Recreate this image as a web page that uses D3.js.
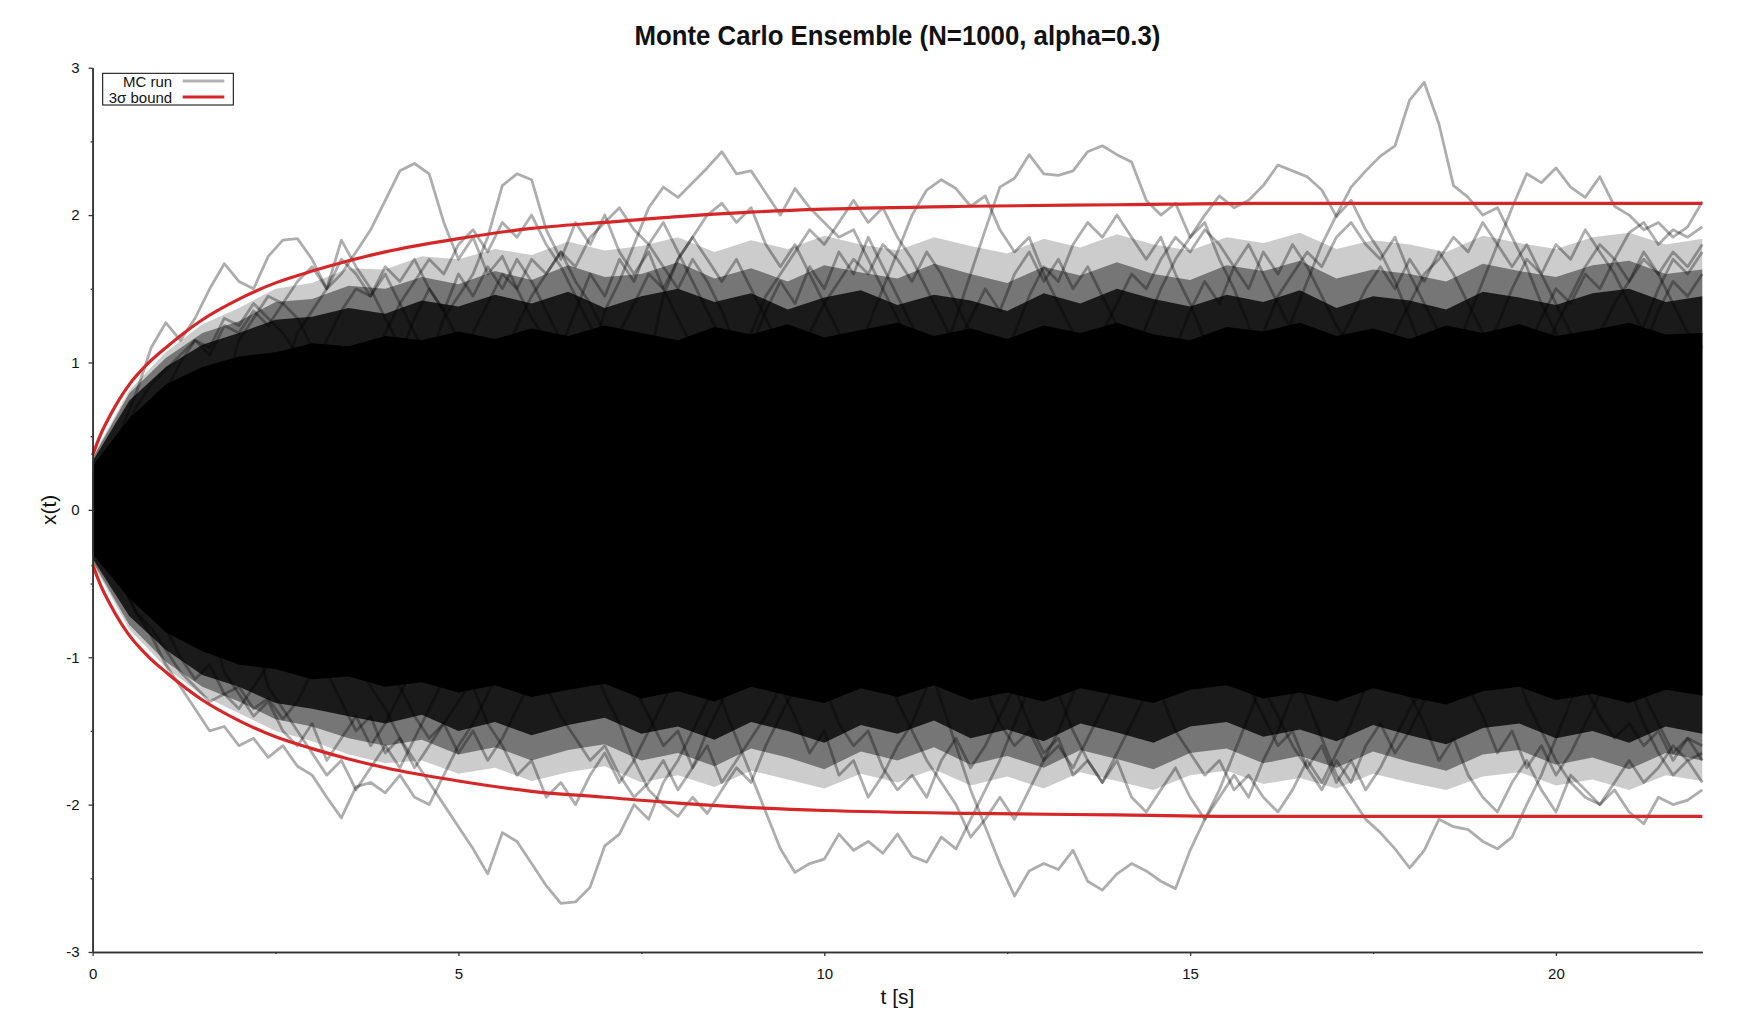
<!DOCTYPE html>
<html>
<head>
<meta charset="utf-8">
<script src="https://cdn.jsdelivr.net/npm/d3@7"></script>
<style>
  body { margin: 0; background: #fff; }
  svg text { font-family: "Liberation Sans", Arial, Helvetica, sans-serif; fill: #111; }
</style>
</head>
<body>
<svg></svg>
<script>
// axis ticks
const xTicks = [0, 5, 10, 15, 20];
const xMinorTicks = [2.5, 7.5, 12.5, 17.5];
const yTicks = [-3, -2, -1, 0, 1, 2, 3];
const yMinorTicks = [-2.5, -1.5, -0.5, 0.5, 1.5, 2.5];

// 3 sigma bound
const boundT = [0, 0.1, 0.25, 0.5, 0.75, 1, 1.5, 2, 2.5, 3, 3.5, 4, 5, 6, 7, 8, 9, 10, 12, 14, 16, 18, 20, 22];
const boundUpper = [0.37, 0.5, 0.65, 0.85, 0.99, 1.1, 1.29, 1.43, 1.54, 1.62, 1.69, 1.75, 1.84, 1.91, 1.95, 1.99, 2.02, 2.04, 2.06, 2.07, 2.08, 2.08, 2.08, 2.08];
const boundLower = [-0.37, -0.5, -0.65, -0.85, -0.99, -1.1, -1.29, -1.43, -1.54, -1.62, -1.69, -1.75, -1.84, -1.91, -1.95, -1.99, -2.02, -2.04, -2.06, -2.07, -2.08, -2.08, -2.08, -2.08];

// edges of the ensemble mass, sampled every 0.5 s (t = 0 .. 22)
const EDGE_DT = 0.5;
const coreTop = [0.3, 0.62, 0.85, 0.97, 1.04, 1.07, 1.13, 1.11, 1.18, 1.15, 1.21, 1.16, 1.23, 1.18, 1.25, 1.2, 1.15, 1.24, 1.19, 1.26, 1.17, 1.22, 1.27, 1.18, 1.23, 1.16, 1.25, 1.2, 1.27, 1.19, 1.15, 1.24, 1.21, 1.27, 1.18, 1.23, 1.16, 1.25, 1.2, 1.26, 1.18, 1.22, 1.27, 1.19, 1.2];
const coreBottom = [-0.3, -0.6, -0.83, -0.96, -1.05, -1.08, -1.15, -1.13, -1.2, -1.17, -1.24, -1.19, -1.27, -1.22, -1.18, -1.28, -1.23, -1.3, -1.2, -1.26, -1.31, -1.21, -1.27, -1.19, -1.29, -1.24, -1.3, -1.21, -1.26, -1.31, -1.22, -1.19, -1.28, -1.24, -1.3, -1.21, -1.27, -1.32, -1.23, -1.2, -1.29, -1.25, -1.31, -1.22, -1.26];
const denseTop = [0.33, 0.74, 0.97, 1.12, 1.2, 1.29, 1.31, 1.37, 1.33, 1.42, 1.38, 1.46, 1.4, 1.48, 1.37, 1.45, 1.5, 1.41, 1.47, 1.36, 1.44, 1.49, 1.39, 1.46, 1.42, 1.35, 1.47, 1.4, 1.5, 1.43, 1.38, 1.46, 1.41, 1.49, 1.37, 1.45, 1.42, 1.36, 1.48, 1.44, 1.39, 1.47, 1.5, 1.41, 1.45];
const denseBottom = [-0.33, -0.72, -0.95, -1.12, -1.2, -1.31, -1.35, -1.4, -1.45, -1.39, -1.5, -1.44, -1.53, -1.46, -1.41, -1.52, -1.47, -1.56, -1.44, -1.5, -1.58, -1.46, -1.52, -1.43, -1.55, -1.49, -1.57, -1.45, -1.51, -1.58, -1.47, -1.44, -1.54, -1.49, -1.57, -1.46, -1.53, -1.59, -1.48, -1.45, -1.55, -1.5, -1.58, -1.47, -1.52];
const midTop = [0.35, 0.79, 1.03, 1.2, 1.28, 1.41, 1.43, 1.52, 1.5, 1.58, 1.53, 1.62, 1.56, 1.66, 1.58, 1.6, 1.68, 1.57, 1.64, 1.55, 1.66, 1.61, 1.57, 1.67, 1.6, 1.54, 1.65, 1.59, 1.68, 1.6, 1.56, 1.66, 1.62, 1.69, 1.57, 1.63, 1.6, 1.55, 1.67, 1.62, 1.58, 1.66, 1.69, 1.6, 1.63];
const midBottom = [-0.35, -0.78, -1.03, -1.2, -1.3, -1.42, -1.47, -1.55, -1.6, -1.56, -1.66, -1.61, -1.7, -1.63, -1.59, -1.7, -1.65, -1.74, -1.62, -1.68, -1.76, -1.64, -1.7, -1.61, -1.73, -1.67, -1.75, -1.63, -1.69, -1.76, -1.65, -1.62, -1.72, -1.67, -1.75, -1.64, -1.71, -1.77, -1.66, -1.63, -1.73, -1.68, -1.76, -1.65, -1.7];
const hazeTop = [0.36, 0.81, 1.07, 1.26, 1.37, 1.5, 1.54, 1.64, 1.63, 1.72, 1.7, 1.77, 1.73, 1.82, 1.76, 1.79, 1.85, 1.75, 1.83, 1.77, 1.86, 1.8, 1.76, 1.85, 1.79, 1.74, 1.84, 1.78, 1.87, 1.8, 1.76, 1.85, 1.81, 1.88, 1.77, 1.83, 1.8, 1.75, 1.86, 1.81, 1.77, 1.85, 1.88, 1.8, 1.84];
const hazeBottom = [-0.36, -0.81, -1.07, -1.26, -1.38, -1.5, -1.57, -1.66, -1.72, -1.7, -1.79, -1.75, -1.84, -1.78, -1.74, -1.85, -1.8, -1.88, -1.77, -1.83, -1.89, -1.79, -1.85, -1.76, -1.87, -1.81, -1.89, -1.78, -1.84, -1.9, -1.8, -1.77, -1.86, -1.82, -1.89, -1.79, -1.85, -1.9, -1.81, -1.78, -1.87, -1.83, -1.9, -1.8, -1.84];

// visible stretches of single runs outside the dense core, sampled every 0.2 s
const RUN_DT = 0.2;
const runsUpper = [
    { t0: 0.2, x: [0.3, 0.55, 0.8, 1.1, 1.27, 1.15, 1.3, 1.5, 1.67, 1.55, 1.5, 1.72, 1.83, 1.84, 1.7, 1.5, 1.83, 1.65, 1.5, 1.3, 1.1, 0.98] },
    { t0: 2.6, x: [0.9, 1.2, 1.35, 1.5, 1.6, 1.75, 1.9, 2.1, 2.3, 2.35, 2.28, 1.95, 1.7, 1.85, 1.6, 1.72, 1.5, 1.3, 1.15, 0.95] },
    { t0: 4.6, x: [1.0, 1.3, 1.45, 1.6, 1.85, 2.2, 2.28, 2.24, 1.9, 1.7, 1.95, 1.8, 2.0, 1.75, 1.6, 1.75, 1.5, 1.3, 1.1, 0.95] },
    { t0: 6.8, x: [1.0, 1.35, 1.55, 1.8, 2.05, 2.19, 2.12, 2.22, 2.32, 2.43, 2.28, 2.3, 2.15, 2.0, 2.18, 2.05, 1.95, 1.85, 1.9, 1.7, 1.5, 1.3, 1.1, 0.95] },
    { t0: 7.6, x: [1.0, 1.45, 1.7, 1.85, 2.0, 2.08, 1.95, 2.05, 1.8, 1.65, 1.8, 1.6, 1.4, 1.2, 1.0] },
    { t0: 0.2, x: [0.3, 0.5, 0.7, 0.85, 0.95, 1.05, 1.15, 1.1, 1.3, 1.25, 1.4, 1.3, 1.2, 1.05, 0.9] },
    { t0: 1.8, x: [0.8, 1.15, 1.3, 1.45, 1.4, 1.55, 1.65, 1.5, 1.7, 1.6, 1.45, 1.6, 1.4, 1.2, 1.0] },
    { t0: 3.8, x: [1.0, 1.2, 1.4, 1.55, 1.7, 1.6, 1.8, 1.9, 1.75, 1.95, 1.85, 2.0, 1.8, 1.65, 1.45, 1.25, 1.05] },
    { t0: 5.6, x: [1.0, 1.25, 1.45, 1.6, 1.75, 1.65, 1.85, 1.95, 2.05, 1.9, 1.8, 1.95, 1.75, 1.55, 1.35, 1.15, 0.95] },
    { t0: 8.8, x: [1.0, 1.2, 1.45, 1.6, 1.75, 1.9, 1.8, 1.95, 2.1, 1.95, 2.05, 1.85, 1.7, 1.5, 1.3, 1.1, 0.95] },
    { t0: 10.4, x: [1.0, 1.25, 1.5, 1.75, 2.0, 2.17, 2.24, 2.18, 2.06, 2.13, 1.9, 1.75, 1.85, 1.6, 1.4, 1.2, 1.0] },
    { t0: 11.6, x: [1.0, 1.3, 1.6, 1.9, 2.19, 2.25, 2.41, 2.28, 2.27, 2.3, 2.43, 2.47, 2.41, 2.36, 2.1, 2.0, 2.08, 1.85, 1.95, 1.7, 1.5, 1.25, 1.0] },
    { t0: 14.2, x: [1.0, 1.25, 1.5, 1.7, 1.85, 2.0, 2.13, 2.05, 2.1, 2.2, 2.34, 2.3, 2.26, 2.17, 1.99, 2.1, 1.9, 1.75, 1.55, 1.3, 1.05] },
    { t0: 16.2, x: [1.0, 1.3, 1.55, 1.8, 2.0, 2.19, 2.3, 2.4, 2.47, 2.78, 2.9, 2.62, 2.2, 2.12, 2.0, 2.05, 1.85, 1.65, 1.4, 1.2, 1.0] },
    { t0: 18.6, x: [1.0, 1.3, 1.55, 1.8, 2.05, 2.28, 2.22, 2.32, 2.19, 2.12, 2.26, 2.06, 2.0, 1.9, 1.95, 1.85, 1.92, 2.09] },
    { t0: 19.8, x: [1.0, 1.25, 1.45, 1.65, 1.8, 1.7, 1.88, 1.95, 1.8, 1.9, 1.85, 1.92] },
    { t0: 13.6, x: [1.0, 1.2, 1.4, 1.6, 1.5, 1.7, 1.85, 1.75, 1.9, 1.8, 1.65, 1.8, 1.6, 1.4, 1.2, 1.0] },
    { t0: 15.8, x: [1.0, 1.2, 1.45, 1.6, 1.75, 1.65, 1.85, 1.95, 1.8, 1.7, 1.85, 1.6, 1.4, 1.2, 1.0] },
    { t0: 17.6, x: [1.0, 1.2, 1.4, 1.6, 1.7, 1.85, 1.75, 1.95, 1.8, 1.65, 1.8, 1.6, 1.4, 1.2, 1.0] },
    { t0: 20.4, x: [1.0, 1.2, 1.4, 1.55, 1.7, 1.6, 1.75, 1.65, 1.8] },
    { t0: 9.6, x: [1.0, 1.2, 1.4, 1.55, 1.7, 1.6, 1.8, 1.7, 1.55, 1.75, 1.6, 1.4, 1.2, 1.0] },
    { t0: 7.0, x: [1.0, 1.2, 1.4, 1.6, 1.5, 1.7, 1.85, 1.7, 1.55, 1.7, 1.5, 1.3, 1.1, 0.95] },
    { t0: 12.4, x: [1.0, 1.2, 1.45, 1.65, 1.55, 1.8, 1.95, 1.85, 2.0, 1.85, 1.7, 1.85, 1.6, 1.4, 1.15, 1.0] },
    { t0: 3.0, x: [0.95, 1.15, 1.35, 1.5, 1.45, 1.65, 1.55, 1.7, 1.5, 1.35, 1.15, 0.95] },
    { t0: 5.0, x: [1.0, 1.2, 1.4, 1.6, 1.5, 1.7, 1.6, 1.75, 1.55, 1.4, 1.2, 1.0] },
    { t0: 19.0, x: [1.0, 1.25, 1.5, 1.7, 1.6, 1.8, 1.7, 1.9, 1.75, 1.6, 1.4, 1.2, 1.0] },
    { t0: 21.0, x: [1.0, 1.25, 1.5, 1.7, 1.6, 1.75] },
    { t0: 1.0, x: [0.8, 1.0, 1.15, 1.05, 1.25, 1.2, 1.35, 1.25, 1.4, 1.3, 1.1, 1.0] },
    { t0: 4.2, x: [1.05, 1.3, 1.5, 1.35, 1.6, 1.45, 1.65, 1.5, 1.7, 1.55, 1.35, 1.15] },
    { t0: 6.4, x: [1.1, 1.35, 1.6, 1.45, 1.7, 1.55, 1.8, 1.65, 1.5, 1.7, 1.55, 1.35, 1.1] },
    { t0: 9.0, x: [1.1, 1.35, 1.55, 1.4, 1.65, 1.5, 1.75, 1.6, 1.85, 1.65, 1.45, 1.25, 1.1] },
    { t0: 11.8, x: [1.1, 1.3, 1.5, 1.35, 1.6, 1.75, 1.55, 1.7, 1.5, 1.65, 1.45, 1.25, 1.1] },
    { t0: 14.8, x: [1.1, 1.35, 1.55, 1.4, 1.65, 1.5, 1.75, 1.6, 1.8, 1.65, 1.45, 1.25, 1.1] },
    { t0: 17.0, x: [1.1, 1.3, 1.5, 1.65, 1.5, 1.7, 1.55, 1.75, 1.6, 1.4, 1.2, 1.1] },
    { t0: 19.6, x: [1.1, 1.3, 1.5, 1.4, 1.6, 1.5, 1.7, 1.55, 1.75, 1.6, 1.4, 1.2, 1.1] },
    { t0: 21.2, x: [1.1, 1.35, 1.55, 1.45, 1.6] }
];
const runsLower = [
    { t0: 0.2, x: [-0.3, -0.5, -0.7, -0.85, -1.05, -1.2, -1.35, -1.5, -1.47, -1.6, -1.55, -1.68, -1.6, -1.74, -1.8, -1.95, -2.09, -1.88, -1.85, -1.92, -1.8, -1.95, -2.0, -1.8, -1.6, -1.45, -1.25, -1.05] },
    { t0: 3.6, x: [-1.0, -1.2, -1.35, -1.55, -1.7, -1.85, -2.0, -2.15, -2.3, -2.47, -2.19, -2.25, -2.4, -2.55, -2.67, -2.66, -2.56, -2.28, -2.2, -2.0, -2.1, -1.85, -1.7, -1.5, -1.3, -1.1, -0.95] },
    { t0: 6.8, x: [-1.0, -1.25, -1.45, -1.7, -1.9, -2.0, -2.08, -1.95, -2.06, -1.9, -1.75, -1.85, -1.6, -1.4, -1.2, -1.0] },
    { t0: 8.4, x: [-1.0, -1.3, -1.55, -1.8, -2.05, -2.3, -2.46, -2.4, -2.37, -2.2, -2.31, -2.25, -2.33, -2.2, -2.35, -2.39, -2.22, -2.3, -2.1, -1.9, -1.7, -1.45, -1.2, -1.0] },
    { t0: 11.4, x: [-1.0, -1.3, -1.6, -1.9, -2.15, -2.4, -2.62, -2.45, -2.4, -2.44, -2.31, -2.52, -2.58, -2.47, -2.4, -2.45, -2.52, -2.57, -2.31, -2.1, -1.9, -1.65, -1.4, -1.15, -0.95] },
    { t0: 16.4, x: [-1.0, -1.3, -1.55, -1.8, -1.95, -2.1, -2.19, -2.3, -2.43, -2.31, -2.1, -2.15, -2.17, -2.25, -2.3, -2.22, -2.0, -1.8, -1.55, -1.3, -1.05] },
    { t0: 19.4, x: [-1.0, -1.3, -1.5, -1.7, -1.85, -1.95, -2.0, -1.9, -2.05, -2.13, -1.95, -2.0, -1.97, -1.9] },
    { t0: 1.6, x: [-0.75, -1.1, -1.25, -1.4, -1.3, -1.5, -1.6, -1.45, -1.7, -1.55, -1.4, -1.6, -1.45, -1.25, -1.05, -0.95] },
    { t0: 5.0, x: [-1.0, -1.2, -1.45, -1.6, -1.8, -1.7, -1.95, -1.85, -2.0, -1.8, -1.65, -1.85, -1.7, -1.5, -1.3, -1.1, -0.95] },
    { t0: 9.8, x: [-1.0, -1.2, -1.45, -1.6, -1.5, -1.75, -1.9, -1.8, -1.95, -1.7, -1.55, -1.75, -1.6, -1.4, -1.2, -1.0] },
    { t0: 13.0, x: [-1.0, -1.25, -1.5, -1.7, -1.85, -1.7, -1.95, -2.05, -1.9, -1.75, -1.95, -2.1, -1.95, -1.8, -1.95, -1.7, -1.5, -1.25, -1.05] },
    { t0: 15.6, x: [-1.0, -1.2, -1.4, -1.6, -1.5, -1.75, -1.9, -1.7, -1.85, -1.6, -1.45, -1.65, -1.5, -1.3, -1.1, -0.95] },
    { t0: 17.8, x: [-1.0, -1.25, -1.45, -1.7, -1.55, -1.8, -1.95, -2.05, -1.85, -1.7, -1.9, -2.05, -1.8, -1.9, -2.0, -1.85, -1.7, -1.85, -1.75, -1.6, -1.7, -1.65] },
    { t0: 20.2, x: [-1.0, -1.2, -1.4, -1.55, -1.45, -1.6, -1.5, -1.7, -1.55, -1.6] },
    { t0: 0.2, x: [-0.3, -0.5, -0.7, -0.8, -0.95, -1.1, -1.2, -1.3, -1.25, -1.35, -1.2, -1.05, -0.9] },
    { t0: 2.2, x: [-0.85, -1.2, -1.35, -1.5, -1.65, -1.8, -1.7, -1.9, -1.75, -1.6, -1.75, -1.55, -1.35, -1.15, -0.95] },
    { t0: 6.0, x: [-1.0, -1.2, -1.4, -1.55, -1.7, -1.6, -1.8, -1.95, -1.85, -1.7, -1.9, -1.75, -1.5, -1.3, -1.1, -0.95] },
    { t0: 10.8, x: [-1.0, -1.3, -1.5, -1.7, -1.85, -2.0, -2.22, -2.1, -1.95, -2.1, -1.9, -1.7, -1.5, -1.25, -1.0] },
    { t0: 14.4, x: [-1.0, -1.25, -1.5, -1.65, -1.8, -1.7, -1.9, -1.8, -1.95, -2.05, -1.9, -1.7, -1.85, -1.65, -1.45, -1.2, -1.0] },
    { t0: 21.0, x: [-1.0, -1.25, -1.45, -1.65, -1.55, -1.7] },
    { t0: 4.0, x: [-1.0, -1.2, -1.4, -1.55, -1.45, -1.65, -1.5, -1.7, -1.55, -1.35, -1.15, -0.95] },
    { t0: 12.0, x: [-1.0, -1.2, -1.45, -1.6, -1.5, -1.7, -1.6, -1.75, -1.55, -1.35, -1.15, -0.95] },
    { t0: 1.0, x: [-0.8, -1.0, -1.15, -1.05, -1.25, -1.2, -1.35, -1.28, -1.42, -1.3, -1.1, -1.0] },
    { t0: 3.2, x: [-1.1, -1.3, -1.5, -1.4, -1.65, -1.55, -1.75, -1.6, -1.45, -1.3, -1.15] },
    { t0: 7.4, x: [-1.2, -1.4, -1.6, -1.5, -1.75, -1.6, -1.85, -1.7, -1.55, -1.4, -1.2] },
    { t0: 9.4, x: [-1.2, -1.4, -1.65, -1.5, -1.8, -1.7, -1.95, -1.8, -1.6, -1.45, -1.2] },
    { t0: 12.6, x: [-1.2, -1.45, -1.65, -1.55, -1.8, -1.7, -1.85, -1.65, -1.45, -1.25] },
    { t0: 16.0, x: [-1.2, -1.4, -1.6, -1.75, -1.6, -1.85, -1.7, -1.9, -1.75, -1.55, -1.35, -1.2] },
    { t0: 18.8, x: [-1.2, -1.4, -1.65, -1.5, -1.75, -1.6, -1.8, -1.65, -1.45, -1.25] },
    { t0: 21.0, x: [-1.2, -1.45, -1.65, -1.8, -1.7, -1.85] }
];

(() => {
    const W = 1740, H = 1020;
    const plot = { left: 92.6, right: 1702.3, top: 67.7, bottom: 952 };

    const svg = d3.select('svg')
        .attr('width', W)
        .attr('height', H);

    const x = d3.scaleLinear().domain([0, 22]).range([plot.left, plot.right]);
    const y = d3.scaleLinear().domain([-3, 3]).range([plot.bottom, plot.top]);

    const chart = svg.append('g');

    // ensemble mass: haze, mid and dense layers, runs, then the solid core
    const edgeArea = (lo, hi) => d3.area()
        .x((d, i) => x(i * EDGE_DT))
        .y0((d, i) => y(lo[i]))
        .y1((d, i) => y(hi[i]))(hi);

    const layers = [
        { lo: hazeBottom, hi: hazeTop, opacity: 0.2 },
        { lo: midBottom, hi: midTop, opacity: 0.42 },
        { lo: denseBottom, hi: denseTop, opacity: 0.78 }
    ];
    layers.forEach(l => {
        chart.append('path')
            .attr('d', edgeArea(l.lo, l.hi))
            .attr('fill', '#000')
            .attr('fill-opacity', l.opacity);
    });

    const runLine = run => d3.line()
        .x((d, i) => x(run.t0 + i * RUN_DT))
        .y(d => y(d))(run.x);

    chart.selectAll('.run')
        .data(runsUpper.concat(runsLower))
        .enter().append('path')
        .attr('class', 'run')
        .attr('d', runLine)
        .attr('fill', 'none')
        .attr('stroke', '#000')
        .attr('stroke-opacity', 0.32)
        .attr('stroke-width', 2.8)
        .attr('stroke-linejoin', 'round');

    chart.append('path')
        .attr('d', edgeArea(coreBottom, coreTop))
        .attr('fill', '#000');

    // 3 sigma bound
    const boundLine = vals => d3.line()
        .x((d, i) => x(boundT[i]))
        .y(d => y(d))
        .curve(d3.curveMonotoneX)(vals);

    [boundUpper, boundLower].forEach(vals => {
        chart.append('path')
            .attr('d', boundLine(vals))
            .attr('fill', 'none')
            .attr('stroke', '#d62728')
            .attr('stroke-width', 3.2);
    });

    // axes
    const styleAxis = sel => {
        sel.attr('font-size', 15)
            .attr('font-family', '"Liberation Sans", Arial, sans-serif');
        sel.selectAll('.domain').attr('stroke', '#333').attr('stroke-width', 1.5);
        sel.selectAll('.tick line').attr('stroke', '#333').attr('stroke-width', 1.3);
        sel.selectAll('.tick text').attr('fill', '#111');
    };
    const plain = d => String(d);

    svg.append('g')
        .attr('transform', `translate(0, ${plot.bottom})`)
        .call(d3.axisBottom(x).tickValues(xTicks).tickSize(4).tickSizeOuter(0).tickPadding(12).tickFormat(plain))
        .call(styleAxis);

    svg.append('g')
        .attr('transform', `translate(0, ${plot.bottom})`)
        .call(d3.axisBottom(x).tickValues(xMinorTicks).tickSize(2).tickSizeOuter(0).tickFormat(''))
        .call(styleAxis);

    svg.append('g')
        .attr('transform', `translate(${plot.left}, 0)`)
        .call(d3.axisLeft(y).tickValues(yTicks).tickSize(4).tickSizeOuter(0).tickPadding(9).tickFormat(plain))
        .call(styleAxis);

    svg.append('g')
        .attr('transform', `translate(${plot.left}, 0)`)
        .call(d3.axisLeft(y).tickValues(yMinorTicks).tickSize(2).tickSizeOuter(0).tickFormat(''))
        .call(styleAxis);

    // axis labels and title
    svg.append('text')
        .attr('x', (plot.left + plot.right) / 2)
        .attr('y', 1004)
        .attr('text-anchor', 'middle')
        .attr('font-size', 21)
        .text('t [s]');

    svg.append('text')
        .attr('transform', `translate(56, ${y(0)}) rotate(-90)`)
        .attr('text-anchor', 'middle')
        .attr('font-size', 21)
        .text('x(t)');

    svg.append('text')
        .attr('x', (plot.left + plot.right) / 2)
        .attr('y', 45)
        .attr('text-anchor', 'middle')
        .attr('font-size', 28)
        .attr('font-weight', 'bold')
        .attr('textLength', 526)
        .attr('lengthAdjust', 'spacingAndGlyphs')
        .text('Monte Carlo Ensemble (N=1000, alpha=0.3)');

    // legend
    const legend = svg.append('g').attr('transform', 'translate(102.7, 73.3)');
    legend.append('rect')
        .attr('width', 130.6)
        .attr('height', 31.7)
        .attr('fill', '#fff')
        .attr('stroke', '#000')
        .attr('stroke-width', 1);

    const legendItems = [
        { label: 'MC run', color: '#000', opacity: 0.3 },
        { label: '3σ bound', color: '#d62728', opacity: 1 }
    ];
    const keys = legend.selectAll('g')
        .data(legendItems)
        .enter().append('g')
        .attr('transform', (d, i) => `translate(0, ${i * 16})`);

    keys.append('text')
        .attr('x', 69.5)
        .attr('y', 13.3)
        .attr('text-anchor', 'end')
        .attr('font-size', 15)
        .text(d => d.label);

    keys.append('line')
        .attr('x1', 80)
        .attr('x2', 121.6)
        .attr('y1', 7.8)
        .attr('y2', 7.8)
        .attr('stroke', d => d.color)
        .attr('stroke-opacity', d => d.opacity)
        .attr('stroke-width', 3);
})();
</script>
</body>
</html>
